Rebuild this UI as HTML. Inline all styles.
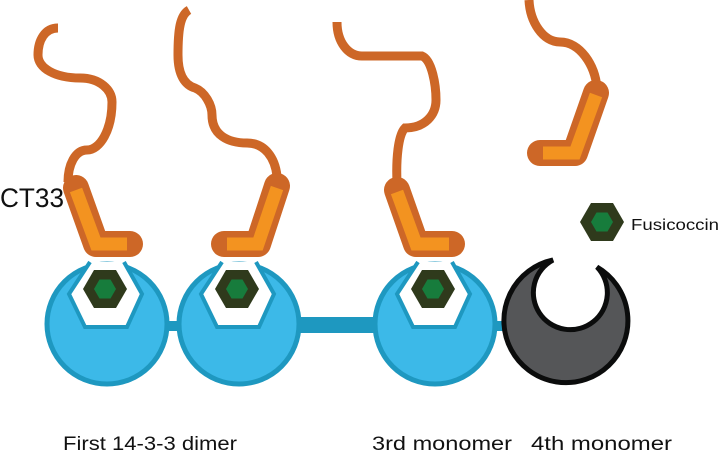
<!DOCTYPE html>
<html><head><meta charset="utf-8"><style>
html,body{margin:0;padding:0;background:#fff;}
svg{display:block;}
text{font-family:"Liberation Sans",sans-serif;fill:#111;}
</style></head><body>
<svg width="721" height="454" viewBox="0 0 721 454" xmlns="http://www.w3.org/2000/svg">
<defs>
<g id="hex"><polygon points="-22,0 -11,-19 11,-19 22,0 11,19 -11,19" fill="#2f3a1c"/><polygon points="-11,0 -5.5,-9.5 5.5,-9.5 11,0 5.5,9.5 -5.5,9.5" fill="#177c3c"/></g>
<g id="blue">
<circle cx="0" cy="0" r="60" fill="#3cb9e8" stroke="#1e98c0" stroke-width="5"/>
<path d="M-17,-62 L-38,-30 L-22,3 L20,3 L35,-30 L17,-62" fill="#fff" stroke="#1e98c0" stroke-width="4"/>
<use href="#hex" x="-2" y="-35"/>
</g>
</defs>
<rect x="165" y="321" width="20" height="10" fill="#1e98c0"/>
<rect x="295" y="317" width="85" height="16" fill="#1e98c0"/>
<rect x="492" y="321" width="22" height="10" fill="#1e98c0"/>
<use href="#blue" x="107" y="324"/>
<use href="#blue" x="239" y="324"/>
<use href="#blue" x="435" y="324"/>
<path d="M553,260 A62,62 0 1,0 597,267 A37,37 0 1,1 553,260 Z" fill="#555658" stroke="#0b0c0c" stroke-width="5" stroke-linejoin="miter"/>
<g fill="none" stroke="#cd6727" stroke-width="9">
<path d="M58,28 C45,28 38,40 38,55 C38,68 55,78 80,78 C100,78 112,90 112,102 C112,130 100,150 87,150 C75,150 68,165 68,182"/>
<path d="M189,10 C180,15 178,30 178,55 C178,75 185,85 195,88 C205,92 212,105 212,115 C212,135 228,143 247,143 C265,143 275,158 277,176"/>
<path d="M337,22 C337,42 348,56 362,56 L422,56 C432,60 436,85 436,100 C436,115 425,128 405,128 C398,135 396,160 397,182"/>
<path d="M529,0 C530,22 543,42 560,42 C580,42 595,65 597,88"/>
</g>
<g fill="none" stroke-linecap="round" stroke-linejoin="round">
<g stroke="#cd6727" stroke-width="26">
<path d="M76,188 L96,244 L130,244"/>
<path d="M277,186 L258,244 L224,244"/>
<path d="M397,190 L416,244 L452,244"/>
<path d="M596,93 L575,153 L540,153"/>
</g>
<g stroke="#f39320" stroke-width="13" stroke-linecap="butt" stroke-linejoin="miter">
<path d="M76,190 L96,244 L127,244"/>
<path d="M277,188 L258,244 L227,244"/>
<path d="M397,192 L416,244 L449,244"/>
<path d="M596,95 L575,153 L543,153"/>
</g>
</g>
<use href="#hex" x="602" y="222"/>
<text x="631" y="230" font-size="16" textLength="88" lengthAdjust="spacingAndGlyphs">Fusicoccin</text>
<text x="0" y="207" font-size="27" textLength="64" lengthAdjust="spacingAndGlyphs">CT33</text>
<text x="63" y="450" font-size="19" textLength="174" lengthAdjust="spacingAndGlyphs">First 14-3-3 dimer</text>
<text x="372" y="450" font-size="19" textLength="140" lengthAdjust="spacingAndGlyphs">3rd monomer</text>
<text x="531" y="450" font-size="19" textLength="141" lengthAdjust="spacingAndGlyphs">4th monomer</text>
</svg>
</body></html>
